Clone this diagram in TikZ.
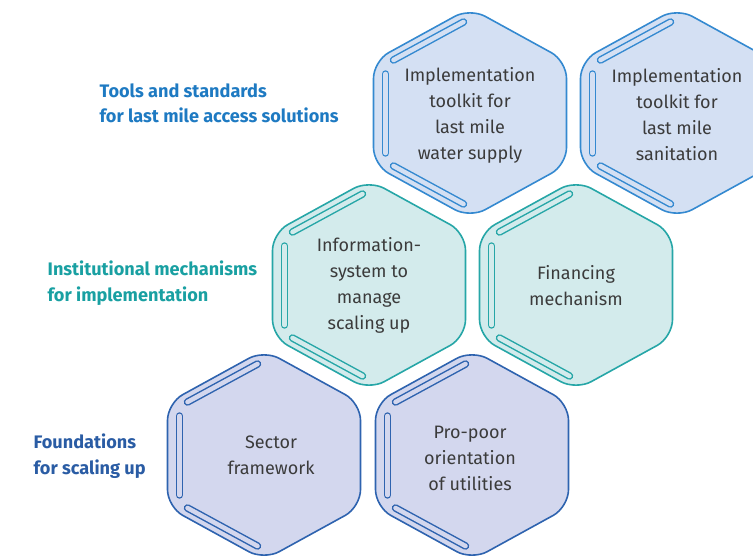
\documentclass[tikz,border=0pt]{standalone}
\usepackage{fontspec}
\setmainfont{Fira Sans}
\definecolor{toolsfill}{HTML}{D4E0F3}
\definecolor{toolsline}{HTML}{3489D0}
\definecolor{toolstext}{HTML}{1E7AC2}
\definecolor{instfill}{HTML}{D3EBEC}
\definecolor{instline}{HTML}{26A6A7}
\definecolor{insttext}{HTML}{19A0A2}
\definecolor{foundfill}{HTML}{D3D7EE}
\definecolor{foundline}{HTML}{2E63AF}
\definecolor{foundtext}{HTML}{2A5CA4}
\definecolor{bodygray}{HTML}{3B3B3B}

\begin{document}
\begin{tikzpicture}[
  x=0.75pt, y=-0.75pt,
  celltext/.style={align=center, text=bodygray, font=\fontsize{13.5}{19.5}\selectfont},
  rowlabel/.style={anchor=west, align=left, font=\fontsize{13.6}{19}\selectfont\bfseries},
  pics/hexcell/.style={code={
    \draw[line width=1.2pt, draw=#1line, fill=#1fill, rounded corners=13pt]
      (0,-105) -- (96.5,-52) -- (96.5,52) -- (0,105) -- (-96.5,52) -- (-96.5,-52) -- cycle;
    % three bars along the left edges
    \foreach \xa/\ya/\xb/\yb in {-76.5/-53/-6.5/-91, -84.5/-39/-84.5/40, -76.5/53/-6.5/91} {
      \draw[line width=5.6pt, line cap=round, #1line] (\xa,\ya) -- (\xb,\yb);
      \draw[line width=3.4pt, line cap=round, #1fill] (\xa,\ya) -- (\xb,\yb);
    }
  }},
]

\useasboundingbox (0,0) rectangle (753,558);
\clip (0,0) rectangle (753,558);

% Top row: tools and standards
\pic at (470,113) {hexcell=tools};
\pic at (677,113) {hexcell=tools};
\node[celltext] (water) at (470,115) {Implementation\\toolkit for\\last mile\\water supply};
\node[celltext] (sanit) at (677,115) {Implementation\\toolkit for\\last mile\\sanitation};

% Middle row: institutional mechanisms
\pic at (369,285) {hexcell=inst};
\pic at (576,285) {hexcell=inst};
\node[celltext] (infosys) at (369,285) {Information-\\system to\\manage\\scaling up};
\node[celltext] (finance) at (576,286) {Financing\\mechanism};

% Bottom row: foundations
\pic at (264,455) {hexcell=found};
\pic at (472,455) {hexcell=found};
\node[celltext] (sector) at (271,455) {Sector\\framework};
\node[celltext] (propoor) at (470,458) {Pro-poor\\orientation\\of utilities};

% Row labels
\node[rowlabel, text=toolstext] (toolslbl) at (95,103) {Tools and standards\\for last mile access solutions};
\node[rowlabel, text=insttext] (instlbl) at (43,283) {Institutional mechanisms\\for implementation};
\node[rowlabel, text=foundtext] (foundlbl) at (29,456) {Foundations\\for scaling up};

\end{tikzpicture}
\end{document}
